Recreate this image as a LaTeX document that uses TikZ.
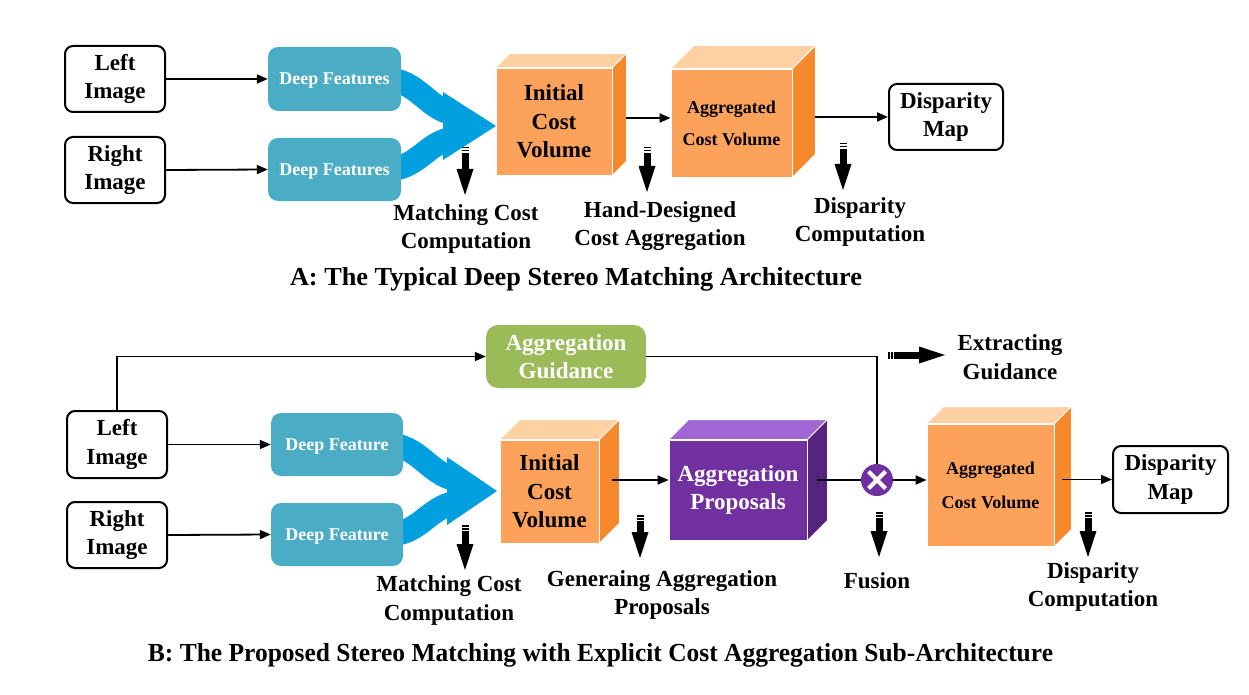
\documentclass[tikz,border=0pt]{standalone}
\usepackage{fontspec}
\usepackage{graphicx}
\setmainfont{Liberation Serif}
\usetikzlibrary{arrows.meta,calc}
\pgfdeclarelayer{background}
\pgfsetlayers{background,main}
\definecolor{dfblue}{HTML}{4BACC6}
\definecolor{bigblue}{HTML}{00A0E0}
\definecolor{orfront}{HTML}{FDA25B}
\definecolor{ortop}{HTML}{FFD0A2}
\definecolor{orside}{HTML}{F8882C}
\definecolor{pufront}{HTML}{7030A0}
\definecolor{putop}{HTML}{A066D3}
\definecolor{puside}{HTML}{56247F}
\definecolor{aggreen}{HTML}{9BBB59}
\tikzset{
  txt/.style={font=\bfseries\fontsize{23}{28.5}\selectfont, align=center, inner sep=0pt},
  imgbox/.style={txt, draw=black, line width=2pt, rounded corners=8pt, fill=white},
  dfbox/.style={font=\bfseries\fontsize{18}{22}\selectfont, text=white, fill=dfblue, rounded corners=10pt, minimum width=133pt, minimum height=64pt, inner sep=0pt, text depth=0pt},
  cubefront/.style={txt, draw=white, line width=0.8pt},
  arr/.style={line width=1.8pt, -{Triangle[length=11pt,width=9pt]}},
  plain/.style={line width=1.8pt},
  bigband/.style={bigblue, line width=24pt},
  lbl/.style={txt},
}
\newcommand\cubefaces[4]{%
  \filldraw[fill=#3, draw=white, line width=0.8pt] (#1.north west) -- ([shift={(#2,-#2)}]#1.north west) -- ([shift={(#2,-#2)}]#1.north east) -- (#1.north east) -- cycle;
  \filldraw[fill=#4, draw=white, line width=0.8pt] (#1.north east) -- ([shift={(#2,-#2)}]#1.north east) -- ([shift={(#2,-#2)}]#1.south east) -- (#1.south east) -- cycle;
}
\newcommand\fatarr[4]{%
  \begin{scope}[shift={(#1,#2)}, rotate=#3]
    \fill (0,-3.5) rectangle (1.5,3.5);
    \fill (3,-3.5) rectangle (4.5,3.5);
    \fill (6,-3.5) rectangle (#4-25,3.5);
    \fill (#4-26,-8.5) -- (#4,0) -- (#4-26,8.5) -- cycle;
  \end{scope}}
\begin{document}
\begin{tikzpicture}[x=1pt,y=-1pt]
\useasboundingbox (0,0) rectangle (1249,695);

% ---------------- Part A ----------------
\node[imgbox, minimum width=100pt, minimum height=66pt] (limgA) at (115,79) {Left\\Image};
\node[imgbox, minimum width=100pt, minimum height=66pt] (rimgA) at (115,170) {Right\\Image};
\node[dfbox] (dfA1) at (334.5,79) {Deep Features};
\node[dfbox, minimum height=63pt] (dfA2) at (334.5,169.5) {Deep Features};
\draw[arr] (limgA.east) -- (dfA1.west);
\draw[arr] (rimgA.east) -- (dfA2.west);

% blue merging arrow A
\coordinate (tipA) at (496,126);
\begin{pgfonlayer}{background}
\draw[bigband] ([xshift=-16pt]dfA1.east) .. controls (417,80) and (427,108) .. (452,113);
\draw[bigband] ([xshift=-16pt]dfA2.east) .. controls (417,170) and (427,142) .. (452,139);
\end{pgfonlayer}
\fill[bigblue] (443,92) -- (tipA) -- (443,160) -- cycle;

\node[cubefront, fill=orfront, minimum width=116pt, minimum height=107pt] (icvA) at (554,121.5) {Initial\\Cost\\Volume};
\cubefaces{icvA}{14}{ortop}{orside}
\node[cubefront, fill=orfront, minimum width=121pt, minimum height=108pt, font=\bfseries\fontsize{18}{32}\selectfont] (acvA) at (731.5,123) {Aggregated\\Cost Volume};
\cubefaces{acvA}{23}{ortop}{orside}
\node[imgbox, minimum width=114pt, minimum height=66pt] (dmA) at (946,117) {Disparity\\Map};

\draw[arr] ([shift={(14,-3.5)}]icvA.east) -- ([shift={(0,-5)}]acvA.west);
\draw[arr] ([xshift=23pt]dmA.west -| acvA.east) -- (dmA.west);

\fatarr{465}{147}{-90}{48}
\fatarr{647}{147}{-90}{45}
\fatarr{843}{143}{-90}{47}
\node[lbl] (mccA) at (466,229) {Matching Cost\\Computation};
\node[lbl] (hdcaA) at (660,226) {Hand-Designed\\Cost Aggregation};
\node[lbl] (dcA) at (860,222) {Disparity\\Computation};
\node[txt] (capA) at (576,279) {\resizebox{572pt}{\height}{\fontsize{26}{30}\selectfont A: The Typical Deep Stereo Matching Architecture}};

% ---------------- Part B ----------------
\node[imgbox, minimum width=100pt, minimum height=67pt] (limgB) at (117,444.5) {Left\\Image};
\node[imgbox, minimum width=100pt, minimum height=66pt] (rimgB) at (117,535) {Right\\Image};
\node[dfbox, minimum width=132pt, minimum height=63pt] (dfB1) at (337,444.5) {Deep Feature};
\node[dfbox, minimum width=132pt, minimum height=63pt] (dfB2) at (337,534.5) {Deep Feature};
\node[txt, text=white, fill=aggreen, rounded corners=12pt, minimum width=160pt, minimum height=63pt] (agB) at (566,356.5) {Aggregation\\Guidance};
\draw[arr] (limgB.east) -- (dfB1.west);
\draw[arr] (rimgB.east) -- (dfB2.west);
\draw[arr] (limgB.north) |- (agB.west);

% blue merging arrow B
\coordinate (tipB) at (497,491);
\begin{pgfonlayer}{background}
\draw[bigband] ([xshift=-16pt]dfB1.east) .. controls (419,445) and (429,474) .. (455,479);
\draw[bigband] ([xshift=-16pt]dfB2.east) .. controls (419,535) and (429,507) .. (455,503);
\end{pgfonlayer}
\fill[bigblue] (447,457) -- (tipB) -- (447,525) -- cycle;

\node[cubefront, fill=orfront, minimum width=99pt, minimum height=103pt] (icvB) at (549.5,491.5) {Initial\\Cost\\Volume};
\cubefaces{icvB}{20}{ortop}{orside}
\node[cubefront, text=white, fill=pufront, minimum width=138pt, minimum height=100pt] (apB) at (738,490) {Aggregation\\Proposals};
\cubefaces{apB}{20}{putop}{puside}
\node[circle, fill=pufront, minimum size=32pt, inner sep=0pt] (circ) at (877,480) {};
\draw[white, line width=4pt] ([shift={(-8.5,-8.5)}]circ.center) -- ([shift={(8.5,8.5)}]circ.center);
\draw[white, line width=4pt] ([shift={(-8.5,8.5)}]circ.center) -- ([shift={(8.5,-8.5)}]circ.center);
\node[cubefront, fill=orfront, minimum width=127pt, minimum height=122pt, font=\bfseries\fontsize{18}{34}\selectfont] (acvB) at (990.5,485) {Aggregated\\Cost Volume};
\cubefaces{acvB}{17}{ortop}{orside}
\node[imgbox, minimum width=115pt, minimum height=67pt] (dmB) at (1170.5,479.5) {Disparity\\Map};

\draw[arr] ([shift={(13,-11.5)}]icvB.east) -- ([shift={(0,-10)}]apB.west);
\draw[plain] ([shift={(10,-10)}]apB.east) -- (circ.west);
\draw[plain] (agB.east) -| (circ.north);
\draw[arr] (circ.east) -- (circ.east -| acvB.west);
\draw[arr] ([xshift=8pt]dmB.west -| acvB.east) -- (dmB.west);

\fatarr{888}{355}{0}{57}
\node[lbl] (egB) at (1010,357) {Extracting\\Guidance};
\fatarr{465}{525}{-90}{45}
\fatarr{640}{515}{-90}{43}
\fatarr{879}{512}{-90}{45}
\fatarr{1088}{512}{-90}{45}
\node[lbl] (mccB) at (449,600.5) {Matching Cost\\Computation};
\node[lbl] (gapB) at (662,595) {Generaing Aggregation\\Proposals};
\node[lbl] (fusB) at (877,581) {Fusion};
\node[lbl] (dcB) at (1093,587) {Disparity\\Computation};
\node[txt] (capB) at (600.5,655) {\resizebox{905pt}{\height}{\fontsize{26}{30}\selectfont B: The Proposed Stereo Matching with Explicit Cost Aggregation Sub-Architecture}};
\end{tikzpicture}
\end{document}
